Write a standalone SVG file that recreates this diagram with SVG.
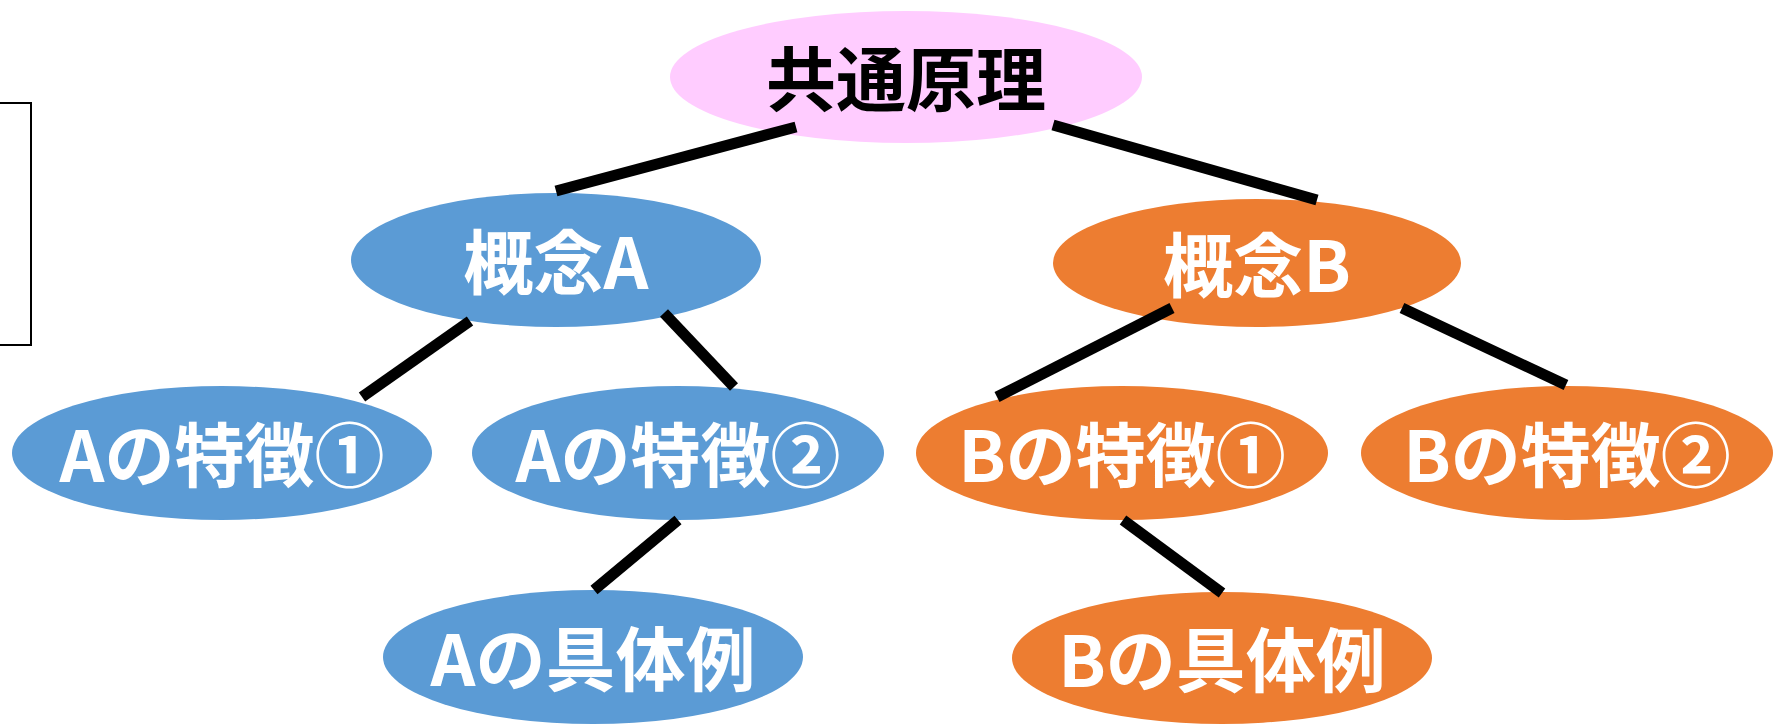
<svg xmlns="http://www.w3.org/2000/svg" width="1776" height="724" viewBox="0 0 1776 724">
<style>
.lbl{font-family:"Noto Sans CJK JP","Noto Sans CJK SC",sans-serif;font-weight:bold;font-size:70px;text-anchor:middle;dominant-baseline:central;fill:#FFFFFF}
.top{fill:#000000;font-size:70px}
.blue{fill:#5B9BD5}
.orange{fill:#ED7D31}
.pink{fill:#FFCCFF}
.conn line{stroke:#000000;stroke-width:11;stroke-linecap:butt}
</style>
<rect width="1776" height="724" fill="#FFFFFF"/>
<path d="M0,103 H31 V345 H0" fill="none" stroke="#000000" stroke-width="2"/>
<g id="n-common"><ellipse class="pink" cx="906" cy="77" rx="236" ry="66"/><text class="lbl top" x="906" y="75">共通原理</text></g>
<g id="n-conceptA"><ellipse class="blue" cx="556" cy="260" rx="205" ry="67"/><text class="lbl" x="556" y="258">概念A</text></g>
<g id="n-conceptB"><ellipse class="orange" cx="1257" cy="263" rx="204" ry="64"/><text class="lbl" x="1257" y="261">概念B</text></g>
<g id="n-A1"><ellipse class="blue" cx="222" cy="453" rx="210" ry="67"/><text class="lbl" x="222" y="451">Aの特徴①</text></g>
<g id="n-A2"><ellipse class="blue" cx="678" cy="453" rx="206" ry="67"/><text class="lbl" x="678" y="451">Aの特徴②</text></g>
<g id="n-Aex"><ellipse class="blue" cx="593" cy="657" rx="210" ry="67"/><text class="lbl" x="593" y="655">Aの具体例</text></g>
<g id="n-B1"><ellipse class="orange" cx="1122" cy="453" rx="206" ry="67"/><text class="lbl" x="1122" y="451">Bの特徴①</text></g>
<g id="n-B2"><ellipse class="orange" cx="1567" cy="453" rx="206" ry="67"/><text class="lbl" x="1567" y="451">Bの特徴②</text></g>
<g id="n-Bex"><ellipse class="orange" cx="1222" cy="658" rx="210" ry="66"/><text class="lbl" x="1222" y="656">Bの具体例</text></g>
<g class="conn" id="connectors">
<line x1="796" y1="127" x2="556" y2="191"/>
<line x1="1053" y1="125" x2="1317" y2="200"/>
<line x1="470" y1="321" x2="362" y2="397"/>
<line x1="664" y1="313" x2="734" y2="387"/>
<line x1="678" y1="520" x2="594" y2="590"/>
<line x1="1172" y1="308" x2="997" y2="397"/>
<line x1="1402" y1="308" x2="1566" y2="385"/>
<line x1="1123" y1="520" x2="1222" y2="593"/>
</g>
</svg>
